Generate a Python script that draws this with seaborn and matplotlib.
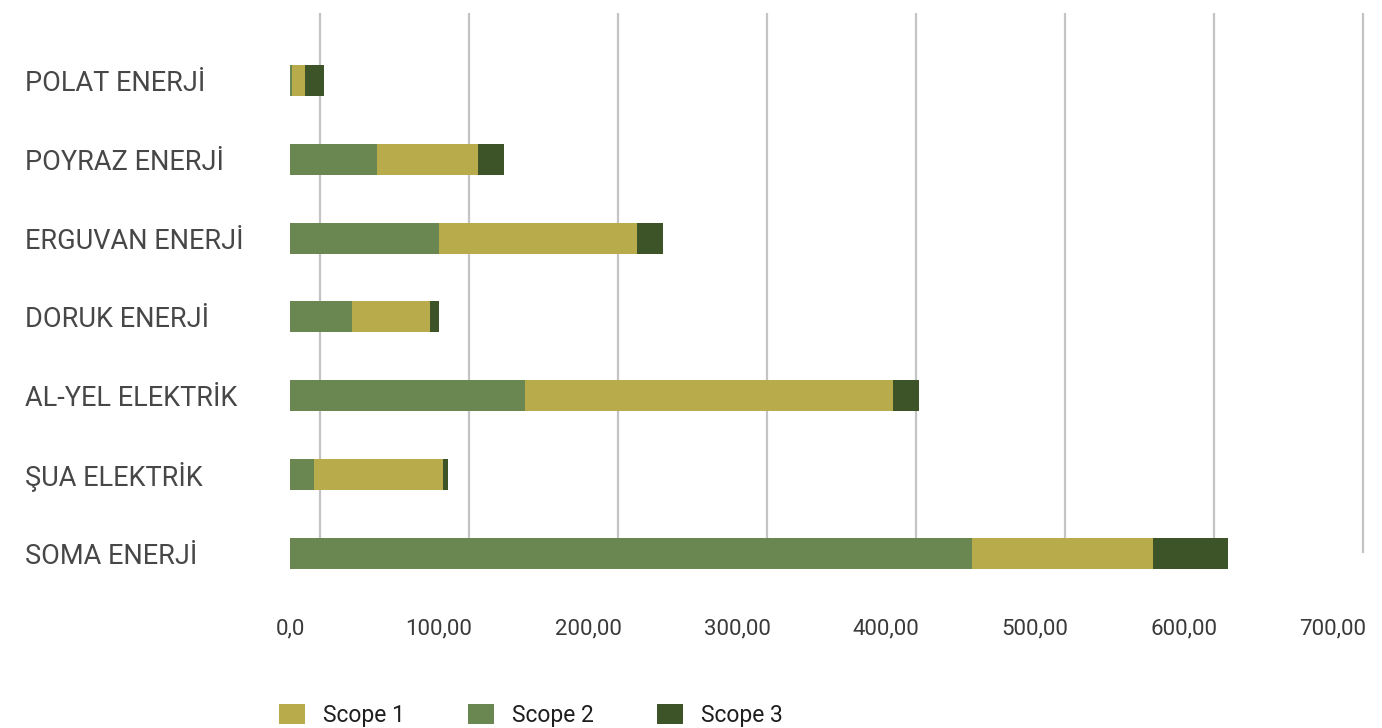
import matplotlib
matplotlib.use("Agg")
import matplotlib.pyplot as plt
import seaborn as sns
import pandas as pd
import numpy as np
from matplotlib.patches import Patch

companies = ["POLAT ENERJİ", "POYRAZ ENERJİ", "ERGUVAN ENERJİ", "DORUK ENERJİ",
             "AL-YEL ELEKTRİK", "ŞUA ELEKTRİK", "SOMA ENERJİ"]
scope2 = [1.3, 58.4, 100.0, 41.6, 157.7, 16.1, 457.7]
scope1 = [8.7, 67.8, 132.9, 52.3, 247.0, 86.6, 121.5]
scope3 = [12.8, 17.4, 17.4, 6.0, 17.4, 3.4, 50.3]
tick_values = [0, 100, 200, 300, 400, 500, 600, 700]
tick_labels = ["0,0", "100,00", "200,00", "300,00", "400,00", "500,00", "600,00", "700,00"]
series_names = ["Scope 1", "Scope 2", "Scope 3"]
colors = {"Scope 1": "#b8ab4b", "Scope 2": "#6b8751", "Scope 3": "#3c5428"}

sns.set_theme(style="white")
plt.rcParams["font.family"] = ["Roboto", "DejaVu Sans"]

df = pd.DataFrame({"company": companies, "s1": scope1, "s2": scope2, "s3": scope3})
df["c2"] = df["s2"]
df["c1"] = df["s2"] + df["s1"]
df["c3"] = df["c1"] + df["s3"]

W, H = 1382, 728
fig = plt.figure(figsize=(W / 100, H / 100), dpi=100)
fig.patch.set_facecolor("white")

px = 1.49  # pixels per unit
x0 = 290
xmax = 730
ax = fig.add_axes([x0 / W, 1 - 600 / H, xmax * px / W, 600 / H])
ax.set_facecolor("none")

# gridlines (offset as in the original design)
grid_pos = [v + 20.1 for v in tick_values]
ax.vlines(grid_pos, -0.857, 6.0, colors="#c4c4c4", linewidth=1.6, zorder=0)

bw = 0.395
sns.barplot(data=df, y="company", x="c3", color=colors["Scope 3"], width=bw,
            saturation=1, ax=ax, zorder=2, linewidth=0, orient="h")
sns.barplot(data=df, y="company", x="c1", color=colors["Scope 1"], width=bw,
            saturation=1, ax=ax, zorder=3, linewidth=0, orient="h")
sns.barplot(data=df, y="company", x="c2", color=colors["Scope 2"], width=bw,
            saturation=1, ax=ax, zorder=4, linewidth=0, orient="h")

ax.set_xlim(0, xmax)
ax.set_ylim(6.593, -1.0216)
ax.set_xlabel("")
ax.set_ylabel("")
for s in ax.spines.values():
    s.set_visible(False)

ax.set_xticks(tick_values)
ax.set_xticklabels(tick_labels, fontsize=16, color="#3a3a3a")
ax.tick_params(axis="x", length=0, pad=13)
for lbl in ax.get_xticklabels():
    lbl.set_clip_on(False)

ax.set_yticks(range(len(companies)))
ax.set_yticklabels(companies, fontsize=19.5, color="#474747", ha="left")
ax.tick_params(axis="y", length=0, pad=(x0 - 25) * 0.72)

handles = [Patch(facecolor=colors[n], edgecolor="none") for n in series_names]
fs = 16.5
fpx = fs / 0.72
leg = fig.legend(handles, series_names, loc="upper left",
                 bbox_to_anchor=(279 / W, 1 - 704 / H), ncol=3, frameon=False,
                 prop={"family": ["Roboto", "DejaVu Sans"], "size": fs},
                 handlelength=26 / fpx, handleheight=22 / fpx,
                 handletextpad=18 / fpx, columnspacing=63 / fpx,
                 borderpad=0, borderaxespad=0)
for t in leg.get_texts():
    t.set_color("#1e1e1e")

fig.savefig("out.png", dpi=100, facecolor="white")
